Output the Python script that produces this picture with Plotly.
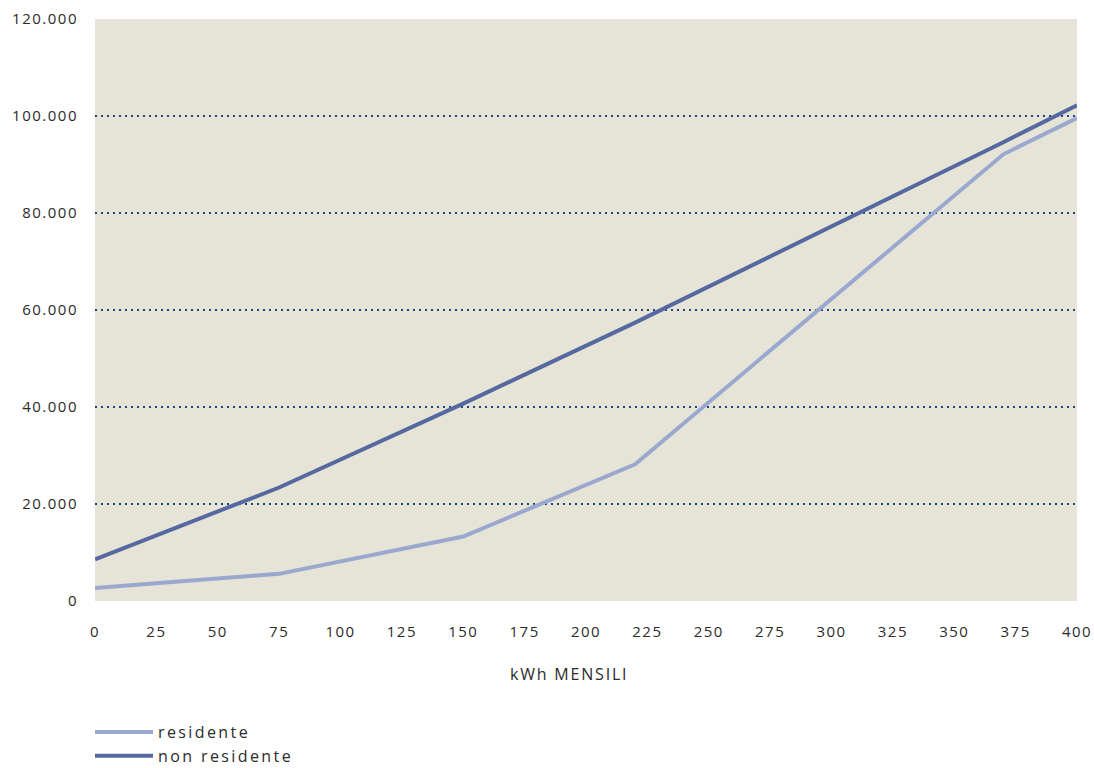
import plotly.graph_objects as go

# Monthly consumption breakpoints (kWh) and annual cost for each customer type
kwh = [0, 75, 150, 220, 370, 400]
residente = [2700, 5600, 13300, 28200, 92100, 99600]
non_residente = [8600, 23400, 40700, 57400, 94600, 102200]

x_ticks = list(range(0, 401, 25))
y_ticks = [0, 20000, 40000, 60000, 80000, 100000, 120000]
y_tick_text = ["0", "20.000", "40.000", "60.000", "80.000", "100.000", "120.000"]
grid_levels = [20000, 40000, 60000, 80000, 100000]

FONT = "Open Sans"
TEXT_COLOR = "#2b2b2b"


def spaced(text, px=1.5):
    return f'<span style="letter-spacing:{px}px">{text}</span>'


fig = go.Figure()
fig.add_trace(go.Scatter(
    x=kwh, y=residente, mode="lines", name=spaced("residente", 2.4),
    line=dict(color="#9aa8cf", width=4),
))
fig.add_trace(go.Scatter(
    x=kwh, y=non_residente, mode="lines", name=spaced("non residente", 2.4),
    line=dict(color="#5569a0", width=4),
))

# dotted horizontal guides
for level in grid_levels:
    fig.add_shape(
        type="line", xref="paper", x0=0, x1=1, yref="y", y0=level, y1=level,
        line=dict(color="#1d4480", width=2, dash="2px,4px"), layer="below",
    )

fig.add_annotation(
    text=spaced("kWh MENSILI", 1.8), xref="paper", yref="paper",
    x=(569 - 95) / (1077 - 95), y=-(674 - 601) / (601 - 19),
    xanchor="center", yanchor="middle", showarrow=False,
    font=dict(family=FONT, size=16, color=TEXT_COLOR),
)

fig.update_layout(
    width=1094, height=768,
    margin=dict(l=95, r=17, t=19, b=167),
    paper_bgcolor="white",
    plot_bgcolor="#e6e4d7",
    font=dict(family=FONT, size=15, color=TEXT_COLOR),
    showlegend=True,
    legend=dict(
        x=-5 / 982, xref="paper", xanchor="left",
        y=1 - 715 / 768, yref="container", yanchor="top",
        font=dict(family=FONT, size=16, color=TEXT_COLOR),
        bgcolor="rgba(0,0,0,0)", tracegroupgap=0,
        itemwidth=58,
    ),
)

fig.update_xaxes(
    range=[0, 400], showgrid=False, zeroline=False, showline=False,
    automargin=False,
    tickmode="array", tickvals=x_ticks,
    ticktext=[spaced(str(v)) for v in x_ticks],
    ticks="", ticklabelstandoff=20,
    tickfont=dict(family=FONT, size=15, color=TEXT_COLOR),
)
fig.update_yaxes(
    range=[0, 120000], showgrid=False, zeroline=False, showline=False,
    automargin=False,
    tickmode="array", tickvals=y_ticks,
    ticktext=[spaced(t) for t in y_tick_text],
    ticks="", ticklabelstandoff=16,
    tickfont=dict(family=FONT, size=15, color=TEXT_COLOR),
)

fig.write_html("out.html")
